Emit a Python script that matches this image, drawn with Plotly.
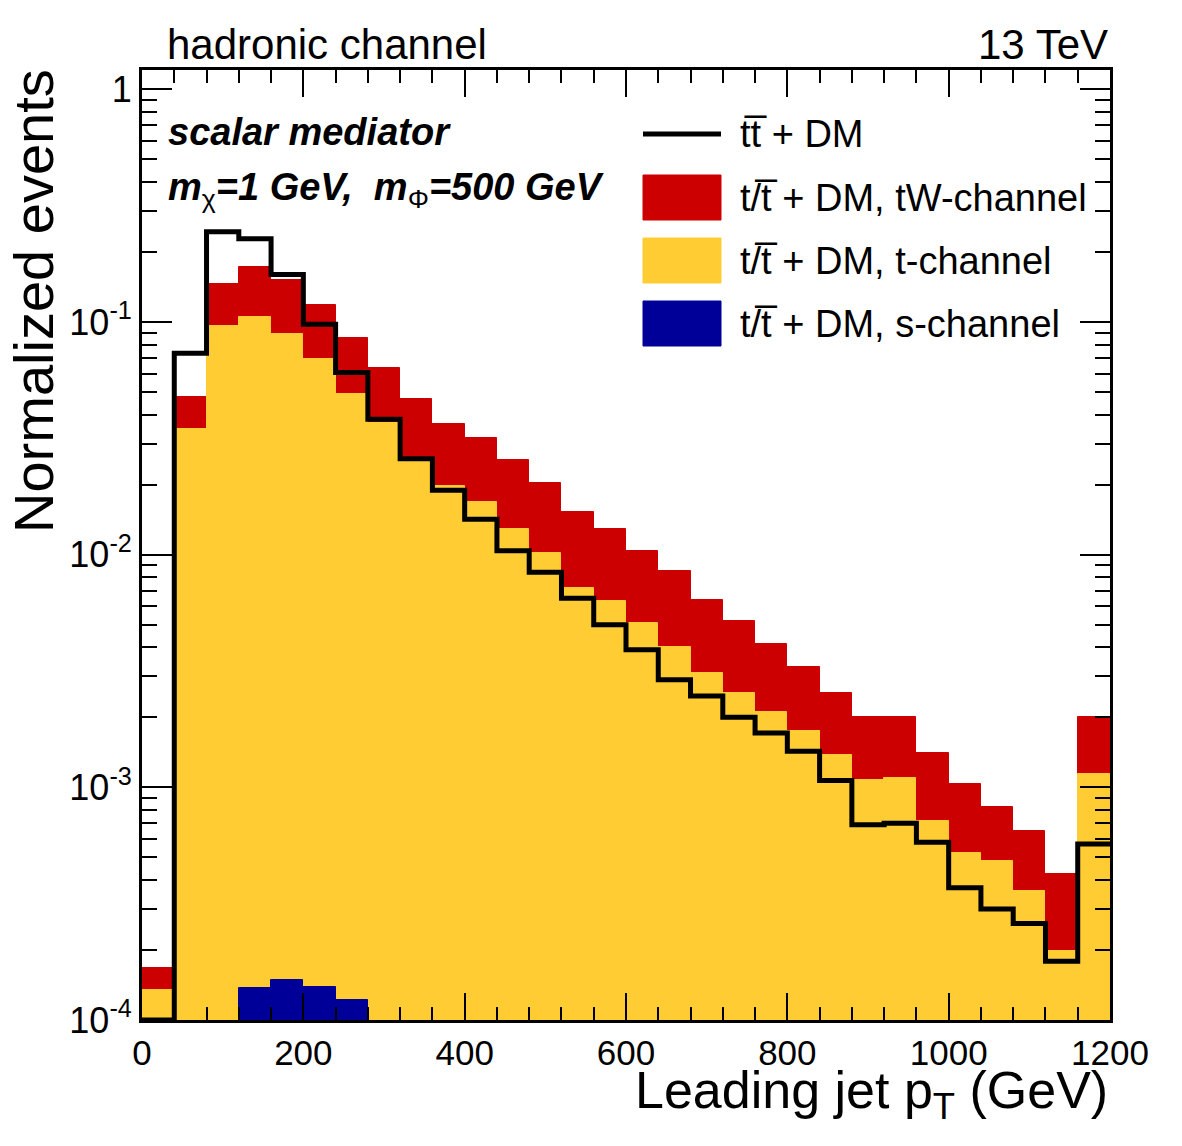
import plotly.graph_objects as go

# ---------------- data ----------------
bin_edges = [40 * i for i in range(31)]          # 0 ... 1200 GeV, 30 bins
bin_centers = [e + 20 for e in bin_edges[:-1]]

# t/tbar + DM, s-channel (bottom of stack)
s_channel = [0, 0, 0, 1.37e-4, 1.48e-4, 1.38e-4, 1.22e-4, 0, 0, 0,
             0, 0, 0, 0, 0, 0, 0, 0, 0, 0,
             0, 0, 0, 0, 0, 0, 0, 0, 0, 0]
# t/tbar + DM, t-channel
t_channel = [1.35e-4, 0.0347, 0.0960, 0.1049, 0.0884, 0.0690, 0.0489, 0.0367, 0.0252, 0.0198,
             0.0168, 0.0129, 0.0102, 0.0072, 0.0063, 0.0051, 0.0040, 0.0031, 0.00255, 0.0021,
             0.00174, 0.00138, 0.00107, 0.00110, 0.00072, 0.00052, 0.00048, 0.00036, 0.000198, 0.00114]
# t/tbar + DM, tW-channel (top of stack)
tw_channel = [3.3e-5, 0.0128, 0.050, 0.067, 0.0635, 0.0489, 0.0367, 0.0270, 0.0214, 0.0166,
              0.0148, 0.0126, 0.0101, 0.0081, 0.0066, 0.0053, 0.0045, 0.0033, 0.00265, 0.00205,
              0.00156, 0.00117, 0.00093, 0.00090, 0.00068, 0.00051, 0.00034, 0.00029, 0.000227, 0.00086]
# tt + DM (black outline)
ttdm = [0, 0.0733, 0.244, 0.228, 0.160, 0.0977, 0.0606, 0.0382, 0.0258, 0.0189,
        0.0142, 0.0104, 0.0084, 0.0065, 0.0050, 0.0039, 0.0029, 0.00247, 0.0020, 0.00171,
        0.00143, 0.00107, 0.00069, 0.00070, 0.00058, 0.00037, 0.00030, 0.00026, 0.000179, 0.00057]

y_tick_vals = [1e-4, 1e-3, 1e-2, 1e-1, 1]
y_tick_text = ["10<sup>-4</sup>", "10<sup>-3</sup>", "10<sup>-2</sup>", "10<sup>-1</sup>", "1"]
x_tick_vals = [0, 200, 400, 600, 800, 1000, 1200]

legend_labels = ["t" + "t\u0305" + " + DM", "t/t\u0305 + DM, tW-channel",
                 "t/t\u0305 + DM, t-channel", "t/t\u0305 + DM, s-channel"]

# ---------------- styling ----------------
RED = "#CC0000"
YEL = "#FFCC33"
BLU = "#000099"
FONT = "Liberation Sans, Arial, Helvetica, sans-serif"
YMIN, YMAX = 1e-4, 1.21

# stacked cumulative heights
stack_s = list(s_channel)
stack_t = [a + b for a, b in zip(stack_s, t_channel)]
stack_tw = [a + b for a, b in zip(stack_t, tw_channel)]

def nz(vals):
    return [v if v > 0 else None for v in vals]

fig = go.Figure()
for vals, col in [(stack_tw, RED), (stack_t, YEL), (stack_s, BLU)]:
    fig.add_trace(go.Bar(x=bin_centers, y=nz(vals), width=40,
                         marker=dict(color=col, line=dict(color=col, width=1)),
                         showlegend=False))

# step outline for tt+DM
step_y = [max(v, YMIN) for v in ttdm] + [max(ttdm[-1], YMIN)]
fig.add_trace(go.Scatter(x=bin_edges, y=step_y, mode="lines",
                         line=dict(color="black", width=5, shape="hv"),
                         showlegend=False))

# ---------------- layout ----------------
W, H = 1182, 1146
L, R, T, B = 142, 72, 70, 126
pw, ph = W - L - R, H - T - B

def px(xp):
    return (xp - L) / pw

def py(yp):
    return (H - B - yp) / ph

minor_y = [d * 10 ** e for e in range(-4, 1) for d in range(2, 10)]

fig.update_layout(
    width=W, height=H,
    margin=dict(l=L, r=R, t=T, b=B),
    plot_bgcolor="white", paper_bgcolor="white",
    barmode="overlay", bargap=0,
    font=dict(family=FONT, color="black"),
    xaxis=dict(range=[0, 1200], tickmode="array", tickvals=x_tick_vals,
               ticks="inside", ticklen=27, tickwidth=2, tickcolor="black",
               minor=dict(ticks="inside", ticklen=13, tickwidth=2, tickcolor="black", dtick=40, tick0=0),
               showline=True, linewidth=3, linecolor="black", mirror="allticks",
               showgrid=False, zeroline=False,
               tickfont=dict(size=35, family=FONT)),
    yaxis=dict(type="log", range=[-4, 0.0828], tickmode="array",
               tickvals=y_tick_vals, ticktext=y_tick_text,
               ticks="inside", ticklen=30, tickwidth=2, tickcolor="black",
               minor=dict(ticks="inside", ticklen=15, tickwidth=2, tickcolor="black",
                          tickmode="array", tickvals=minor_y),
               showline=True, linewidth=3, linecolor="black", mirror="allticks",
               showgrid=False, zeroline=False,
               tickfont=dict(size=36, family=FONT)),
)

NB = '<span style="font-weight:normal;font-style:normal">'
ann = []
ann.append(dict(text="hadronic channel", x=px(165), y=py(45), xref="paper", yref="paper",
                xanchor="left", yanchor="middle", showarrow=False, font=dict(size=42)))
ann.append(dict(text="13 TeV", x=1.0, y=py(45), xref="paper", yref="paper",
                xanchor="right", yanchor="middle", showarrow=False, font=dict(size=42)))
ann.append(dict(text="<b><i>scalar mediator</i></b>", x=px(166), y=py(132), xref="paper", yref="paper",
                xanchor="left", yanchor="middle", showarrow=False, font=dict(size=38)))
ann.append(dict(text="<b><i>m</i></b><sub>" + NB + "χ</span></sub><b><i>=1 GeV,  m</i></b><sub>"
                     + NB + "Φ</span></sub><b><i>=500 GeV</i></b>",
                x=px(166), y=py(190),
                xref="paper", yref="paper", xanchor="left", yanchor="middle", showarrow=False,
                font=dict(size=38)))
ann.append(dict(text="Normalized events", x=px(33), y=py(301), xref="paper", yref="paper",
                xanchor="center", yanchor="middle", textangle=-90, showarrow=False, font=dict(size=56)))
ann.append(dict(text="Leading jet p<sub>T</sub> (GeV)", x=1.0, y=py(1094), xref="paper", yref="paper",
                xanchor="right", yanchor="middle", showarrow=False, font=dict(size=52)))

# manual legend
rows_y = [134, 198, 261, 324]
for lab, yy in zip(legend_labels, rows_y):
    ann.append(dict(text=lab, x=px(738), y=py(yy), xref="paper", yref="paper",
                    xanchor="left", yanchor="middle", showarrow=False, font=dict(size=38)))

shapes = [dict(type="line", xref="paper", yref="paper", x0=px(643), x1=px(721), y0=py(134), y1=py(134),
               line=dict(color="black", width=5))]
for col, (y0, y1) in zip([RED, YEL, BLU], [(175, 220), (238, 283), (301, 346)]):
    shapes.append(dict(type="rect", xref="paper", yref="paper", x0=px(643), x1=px(721),
                       y0=py(y1), y1=py(y0), fillcolor=col, line=dict(color=col, width=1)))

fig.update_layout(annotations=ann, shapes=shapes)
fig.write_html("out.html")
